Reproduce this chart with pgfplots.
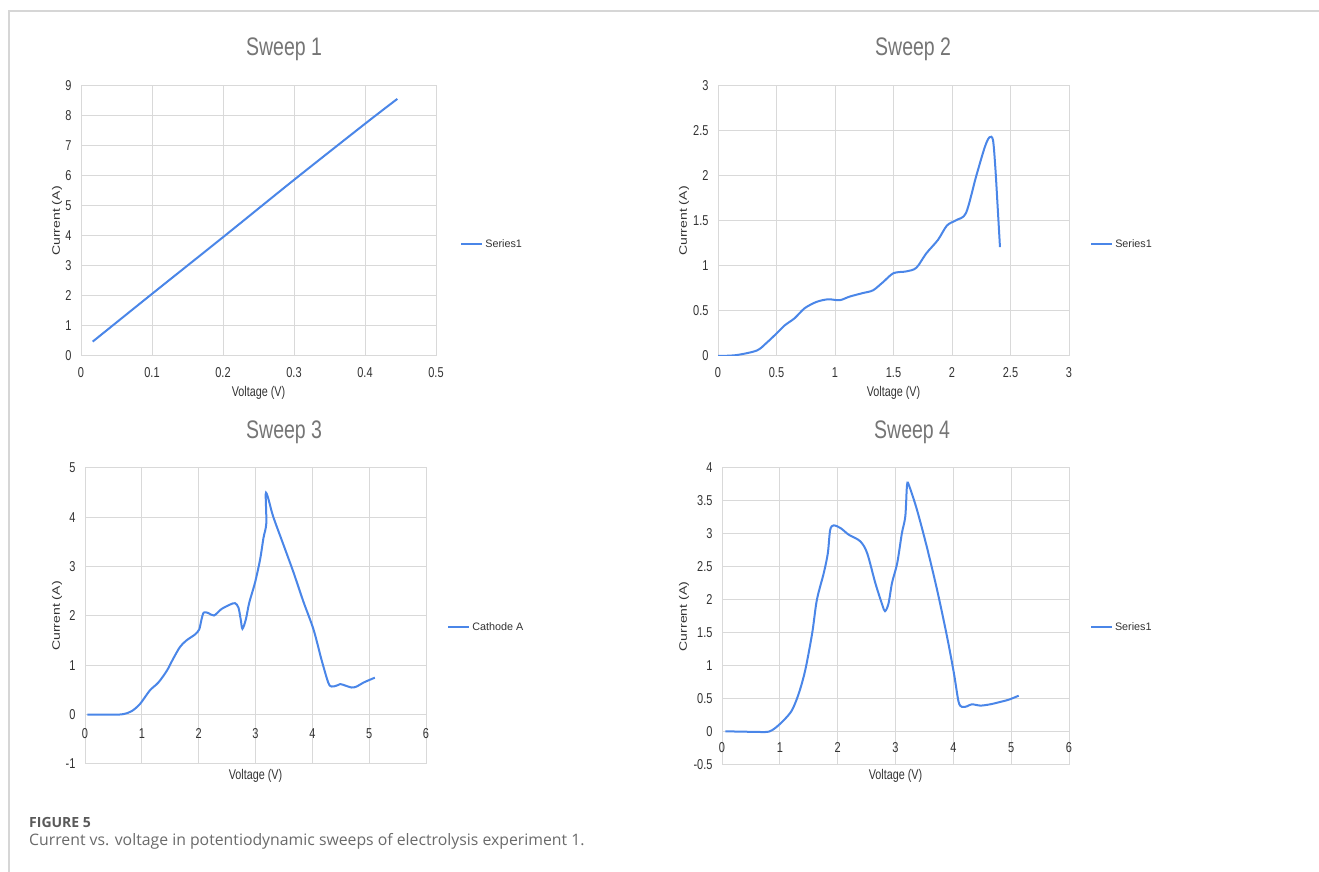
\documentclass[border=0pt]{standalone}
\usepackage{pgfplots}
\pgfplotsset{compat=1.18}
\usepackage{fontspec}
\setmainfont{Liberation Sans}
\newfontfamily\capfont{Open Sans}
\definecolor{lineblue}{HTML}{4A86E8}
\definecolor{gridgray}{HTML}{D9D9D9}
\definecolor{ticktext}{HTML}{333333}
\definecolor{titlegray}{HTML}{757575}
\definecolor{framegray}{HTML}{D6D6D6}
\definecolor{capdark}{HTML}{5A5A5A}
\definecolor{captext}{HTML}{6A6A6A}
\pgfplotsset{sweep/.style={
  scale only axis, anchor=south west,
  grid=major, grid style={draw=gridgray, line width=1pt},
  axis line style={draw=gridgray, line width=1pt},
  major tick length=0pt,
  /pgf/number format/assume math mode=true,
  scaled ticks=false,
  tick label style={font=\fontsize{11}{12}\selectfont, text=ticktext, yscale=1.3},
  yticklabel style={xshift=-6pt},
  xticklabel shift=7pt,
  label style={font=\fontsize{10.8}{12}\selectfont, text=ticktext},
  xlabel style={anchor=center, yscale=1.3},
  ylabel style={anchor=center, xscale=1.3},
  title style={font=\fontsize{19.5}{22}\selectfont, text=titlegray, anchor=center, yscale=1.3},
  legend style={draw=none, fill=none, anchor=west, font=\fontsize{10.8}{12}\selectfont, text=ticktext, inner sep=0pt},
  legend cell align=left,
  legend image code/.code={\draw[#1] (0pt,0pt) -- (21pt,0pt);},
  cycle list={{lineblue}},
  every axis plot/.append style={line width=2pt, smooth, tension=0.5, mark=none},
}}
\begin{document}
\begin{tikzpicture}[x=1pt,y=1pt]
\useasboundingbox (0,0) rectangle (1319,872);
\fill[white] (0,0) rectangle (1319,872);
\draw[framegray, line width=1.3pt] (9,0) -- (9,861) -- (1319,861);

% Sweep 1
\begin{axis}[sweep, at={(81pt,516pt)}, width=355pt, height=270pt,
  xmin=0, xmax=0.5, ymin=0, ymax=9,
  xtick={0,0.1,0.2,0.3,0.4,0.5}, ytick={0,1,...,9},
  title={Sweep 1}, title style={at={(axis description cs:0.572,1.115)}},
  xlabel={Voltage (V)}, xlabel style={at={(axis description cs:0.5,-0.137)}},
  ylabel={Current (A)}, ylabel style={at={(axis description cs:-0.0676,0.5)}},
  legend style={at={(axis description cs:1.068,0.415)}}]
\addplot coordinates {(0.0165,0.48) (0.1,2.07) (0.2,3.96) (0.3,5.87) (0.4,7.74) (0.4455,8.57)};
\addlegendentry{Series1}
\end{axis}

% Sweep 2
\begin{axis}[sweep, at={(718pt,516pt)}, width=351pt, height=270pt,
  xmin=0, xmax=3, ymin=0, ymax=3,
  xtick={0,0.5,...,3}, ytick={0,0.5,...,3},
  title={Sweep 2}, title style={at={(axis description cs:0.556,1.115)}},
  xlabel={Voltage (V)}, xlabel style={at={(axis description cs:0.5,-0.137)}},
  ylabel={Current (A)}, ylabel style={at={(axis description cs:-0.0969,0.5)}},
  legend style={at={(axis description cs:1.06,0.415)}}]
\addplot coordinates {(0,0) (0.157,0.01) (0.33,0.06) (0.41,0.14) (0.5,0.25) (0.57,0.34)
 (0.655,0.42) (0.74,0.53) (0.84,0.60) (0.94,0.63) (1.04,0.62) (1.125,0.66) (1.24,0.70)
 (1.325,0.73) (1.41,0.82) (1.5,0.92) (1.61,0.94) (1.695,0.98) (1.78,1.14) (1.88,1.29)
 (1.957,1.45) (2.037,1.51) (2.12,1.59) (2.205,1.99) (2.28,2.32) (2.32,2.43) (2.35,2.40)
 (2.37,2.10) (2.39,1.66) (2.41,1.21)};
\addlegendentry{Series1}
\end{axis}

% Sweep 3
\begin{axis}[sweep, at={(85pt,108pt)}, width=341pt, height=296pt,
  xmin=0, xmax=6, ymin=-1, ymax=5,
  xtick={0,1,...,6}, ytick={-1,0,...,5},
  xticklabel shift=-40pt,
  title={Sweep 3}, title style={at={(axis description cs:0.584,1.101)}},
  xlabel={Voltage (V)}, xlabel style={at={(axis description cs:0.5,-0.0405)}},
  ylabel={Current (A)}, ylabel style={at={(axis description cs:-0.0821,0.5)}},
  legend style={at={(axis description cs:1.062,0.463)}}]
\addplot coordinates {(0.04,0) (0.5,0) (0.67,0.01) (0.82,0.07) (0.97,0.22) (1.14,0.49)
 (1.29,0.65) (1.44,0.89) (1.55,1.13) (1.67,1.37) (1.78,1.50) (1.94,1.63) (2.01,1.73)
 (2.05,1.93) (2.09,2.07) (2.17,2.06) (2.27,2.01) (2.40,2.14) (2.55,2.23) (2.64,2.26)
 (2.70,2.17) (2.74,1.93) (2.77,1.74) (2.83,1.93) (2.89,2.27) (2.99,2.67) (3.08,3.14)
 (3.14,3.58) (3.19,3.88) (3.18,4.47) (3.22,4.40) (3.31,4.02) (3.49,3.45) (3.67,2.88)
 (3.84,2.30) (4.02,1.73) (4.16,1.12) (4.28,0.65) (4.34,0.57) (4.43,0.59) (4.49,0.62)
 (4.58,0.59) (4.69,0.55) (4.78,0.57) (4.90,0.65) (5.10,0.75)};
\addlegendentry{Cathode A}
\end{axis}

% Sweep 4
\begin{axis}[sweep, at={(722pt,107pt)}, width=347pt, height=297pt,
  xmin=0, xmax=6, ymin=-0.5, ymax=4,
  xtick={0,1,...,6}, ytick={-0.5,0,...,4},
  xticklabel shift=-27pt,
  title={Sweep 4}, title style={at={(axis description cs:0.548,1.101)}},
  xlabel={Voltage (V)}, xlabel style={at={(axis description cs:0.5,-0.037)}},
  ylabel={Current (A)}, ylabel style={at={(axis description cs:-0.1095,0.5)}},
  legend style={at={(axis description cs:1.06,0.465)}}]
\addplot coordinates {(0.06,0.01) (0.37,0.005) (0.66,0) (0.81,0.005) (0.92,0.06) (1.07,0.18)
 (1.21,0.33) (1.33,0.59) (1.44,0.94) (1.56,1.50) (1.64,2.00) (1.76,2.41) (1.83,2.71)
 (1.87,3.06) (1.93,3.13) (2.05,3.09) (2.19,2.99) (2.39,2.89) (2.51,2.71) (2.65,2.26)
 (2.77,1.93) (2.82,1.83) (2.88,1.95) (2.94,2.26) (3.03,2.56) (3.11,3.01) (3.17,3.27)
 (3.20,3.75) (3.24,3.72) (3.37,3.37) (3.54,2.81) (3.72,2.15) (3.89,1.45) (4.01,0.89)
 (4.09,0.46) (4.15,0.38) (4.24,0.39) (4.32,0.42) (4.47,0.40) (4.64,0.42) (4.81,0.455)
 (4.96,0.49) (5.13,0.55)};
\addlegendentry{Series1}
\end{axis}

\node[anchor=base west, font=\capfont\bfseries\fontsize{14}{16}\selectfont, text=capdark, inner sep=0pt] at (29,44) {FIGURE 5};
\node[anchor=base west, font=\capfont\fontsize{15.8}{18}\selectfont, text=captext, inner sep=0pt] at (29,26) {Current vs. voltage in potentiodynamic sweeps of electrolysis experiment 1.};
\end{tikzpicture}
\end{document}
